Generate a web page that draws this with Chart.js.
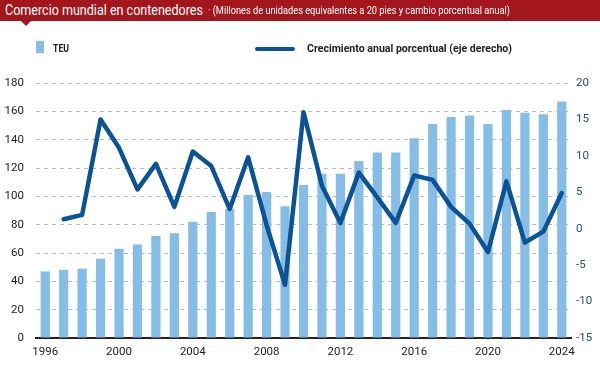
<!DOCTYPE html>
<html>
<head>
<meta charset="utf-8">
<script src="https://cdn.jsdelivr.net/npm/chart.js@4"></script>
<style>
  html,body{margin:0;padding:0;background:#fff;}
  #wrap{position:relative;width:600px;height:372px;overflow:hidden;font-family:Roboto,"Open Sans",sans-serif;}
  #cv{position:absolute;left:0;top:0;}
  #titlebar{position:absolute;left:0;top:0;width:600px;height:21px;background:#a3161c;}
  .fit{position:absolute;white-space:nowrap;transform-origin:0 50%;}
  #tt{left:5px;top:0;font-size:14.5px;line-height:21px;color:#fff;}
  #ts{left:208px;top:0;font-size:10.5px;line-height:22px;color:#fff;}
  #tri{position:absolute;left:21px;top:21px;width:0;height:0;border-left:5px solid transparent;border-right:5px solid transparent;border-top:5px solid #a3161c;}
  .lg{font-weight:bold;font-size:11px;color:#222;line-height:14px;top:41.5px;}
  #sw1{position:absolute;left:36px;top:41px;width:8px;height:12px;background:#85bde6;}
  #sw2{position:absolute;left:255px;top:46.5px;width:40px;height:4.5px;border-radius:3px;background:#0b5394;}
</style>
</head>
<body>
<div id="wrap">
  <canvas id="cv" width="600" height="372"></canvas>
  <div id="titlebar"></div>
  <div id="tt" class="fit" data-w="198">Comercio mundial en contenedores</div>
  <div id="ts" class="fit" data-w="302">· (Millones de unidades equivalentes a 20 pies y cambio porcentual anual)</div>
  <div id="tri"></div>
  <div id="sw1"></div><div class="fit lg" style="left:53px;" data-w="16">TEU</div>
  <div id="sw2"></div><div class="fit lg" style="left:307px;" data-w="205">Crecimiento anual porcentual (eje derecho)</div>
</div>
<script>
const years = [1996,1997,1998,1999,2000,2001,2002,2003,2004,2005,2006,2007,2008,2009,2010,2011,2012,2013,2014,2015,2016,2017,2018,2019,2020,2021,2022,2023,2024];
const teu = [47,48,49,56,63,66,72,74,82,89,91,101,103,93,108,116,116,125,131,131,141,151,156,157,151,161,159,158,167];
const growth = [null,1.3,1.9,15.0,11.1,5.4,8.9,3.0,10.6,8.6,2.7,9.8,0.5,-7.7,16.0,5.9,0.8,7.7,4.3,0.8,7.3,6.7,3.0,0.7,-3.2,6.5,-1.9,-0.4,4.9];
const leftTicks = [0,20,40,60,80,100,120,140,160,180];
const rightTicks = [-15,-10,-5,0,5,10,15,20];
const xLabelYears = [1996,2000,2004,2008,2012,2016,2020,2024];

document.querySelectorAll('.fit').forEach(el => {
  const w = el.getBoundingClientRect().width;
  const target = parseFloat(el.dataset.w);
  if (w > 0) el.style.transform = 'scaleX(' + (target / w) + ')';
});

const FONT = 'Roboto,"Open Sans",sans-serif';

new Chart(document.getElementById('cv'), {
  data: {
    labels: years.map(String),
    datasets: [
      {
        type: 'line', label: 'Crecimiento anual porcentual (eje derecho)', data: growth, yAxisID: 'y1',
        borderColor: '#0b5394', borderWidth: 4.5, pointRadius: 0, tension: 0, spanGaps: false,
        borderJoinStyle: 'round', borderCapStyle: 'round', order: 0
      },
      {
        type: 'bar', label: 'TEU', data: teu, yAxisID: 'y',
        backgroundColor: '#85bde6', categoryPercentage: 1, barPercentage: 0.5, order: 1
      }
    ]
  },
  options: {
    responsive: false, animation: false,
    layout: { padding: { top: 83, left: 0, right: 0, bottom: 0 } },
    plugins: { legend: { display: false }, tooltip: { enabled: false }, title: { display: false } },
    scales: {
      x: {
        offset: true,
        grid: { display: false, drawTicks: false },
        border: { display: true, color: '#222', width: 2 },
        ticks: {
          autoSkip: false, maxRotation: 0, padding: 7, color: '#222',
          font: { family: FONT, size: 11.5 },
          callback: function(v, i) { const y = years[i]; return xLabelYears.includes(y) ? String(y) : ''; }
        },
        afterFit: s => { s.height = 34; }
      },
      y: {
        position: 'left', min: 0, max: 180,
        afterBuildTicks: s => { s.ticks = leftTicks.map(v => ({ value: v })); },
        grid: { color: '#bbbbbb', lineWidth: 1, drawTicks: false },
        border: { display: false, dash: [4, 4] },
        ticks: { padding: 12, color: '#222', font: { family: FONT, size: 11.5 } },
        afterFit: s => { s.width = 36; }
      },
      y1: {
        position: 'right', min: -15, max: 20,
        afterBuildTicks: s => { s.ticks = rightTicks.map(v => ({ value: v })); },
        grid: { display: false, drawTicks: false },
        border: { display: false },
        ticks: { padding: 5, color: '#1f4e79', font: { family: FONT, size: 11.5 } },
        afterFit: s => { s.width = 29; }
      }
    }
  }
});
</script>
</body>
</html>
